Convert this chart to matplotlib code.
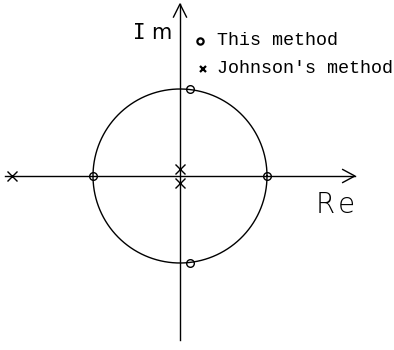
import numpy as np
import matplotlib
matplotlib.use("Agg")
import matplotlib.pyplot as plt

# Pole locations in the complex plane (unit circle radius = 1)
this_re = [-1.0, 1.0, 0.115, 0.115]
this_im = [0.0, 0.0, 1.0, -1.0]
johnson_re = [-1.93, 0.0, 0.0]
johnson_im = [0.0, 0.08, -0.08]
legend_labels = ["This method", "Johnson's method"]

fig = plt.figure(figsize=(3.94, 3.5), dpi=100)
ax = fig.add_axes([0, 0, 1, 1])
ax.set_xlim(-180 / 87, 214 / 87)
ax.set_ylim(-174 / 87, 176 / 87)
ax.axis("off")

lw = 1.0
k = "black"

# Real and imaginary axes with open arrowheads
ax.plot([-2.01, 2.01], [0, 0], color=k, lw=lw)
ax.plot([2.01 - 0.14, 2.01, 2.01 - 0.14], [0.075, 0, -0.075], color=k, lw=lw)
ax.plot([0, 0], [-1.885, 1.977], color=k, lw=lw)
ax.plot([-0.075, 0, 0.075], [1.977 - 0.15, 1.977, 1.977 - 0.15], color=k, lw=lw)

# Unit circle
t = np.linspace(0, 2 * np.pi, 400)
ax.plot(np.cos(t), np.sin(t), color=k, lw=lw)

# Poles
ax.plot(this_re, this_im, linestyle="none", marker="o", ms=5.5,
        mfc="none", mec=k, mew=1.0)
ax.plot(johnson_re, johnson_im, linestyle="none", marker="x", ms=7.5,
        mec=k, mew=1.0)

# Axis names
name_kw = dict(fontsize=15, family="DejaVu Sans Mono", ha="center",
               va="baseline", color=k)
ax.text(-0.471, 1.575, "I", **name_kw)
ax.text(-0.218, 1.575, "m", **dict(name_kw, family="DejaVu Sans"))
re_kw = dict(fontsize=20, family="DejaVu Sans", fontweight="light",
             ha="center", va="baseline", color=k)
ax.text(1.672, -0.425, "R", **re_kw)
ax.text(1.908, -0.425, "e", **re_kw)

# Legend
ax.plot([0.23], [1.552], linestyle="none", marker="o", ms=4.5,
        mfc="none", mec=k, mew=1.6)
ax.text(0.425, 1.552, legend_labels[0], fontsize=13.2,
        family="Liberation Mono", ha="left", va="center", color=k)
ax.plot([0.264], [1.23], linestyle="none", marker="x", ms=5,
        mec=k, mew=1.6)
ax.text(0.425, 1.23, legend_labels[1], fontsize=13.2,
        family="Liberation Mono", ha="left", va="center", color=k)

fig.savefig("out.png", dpi=100)
